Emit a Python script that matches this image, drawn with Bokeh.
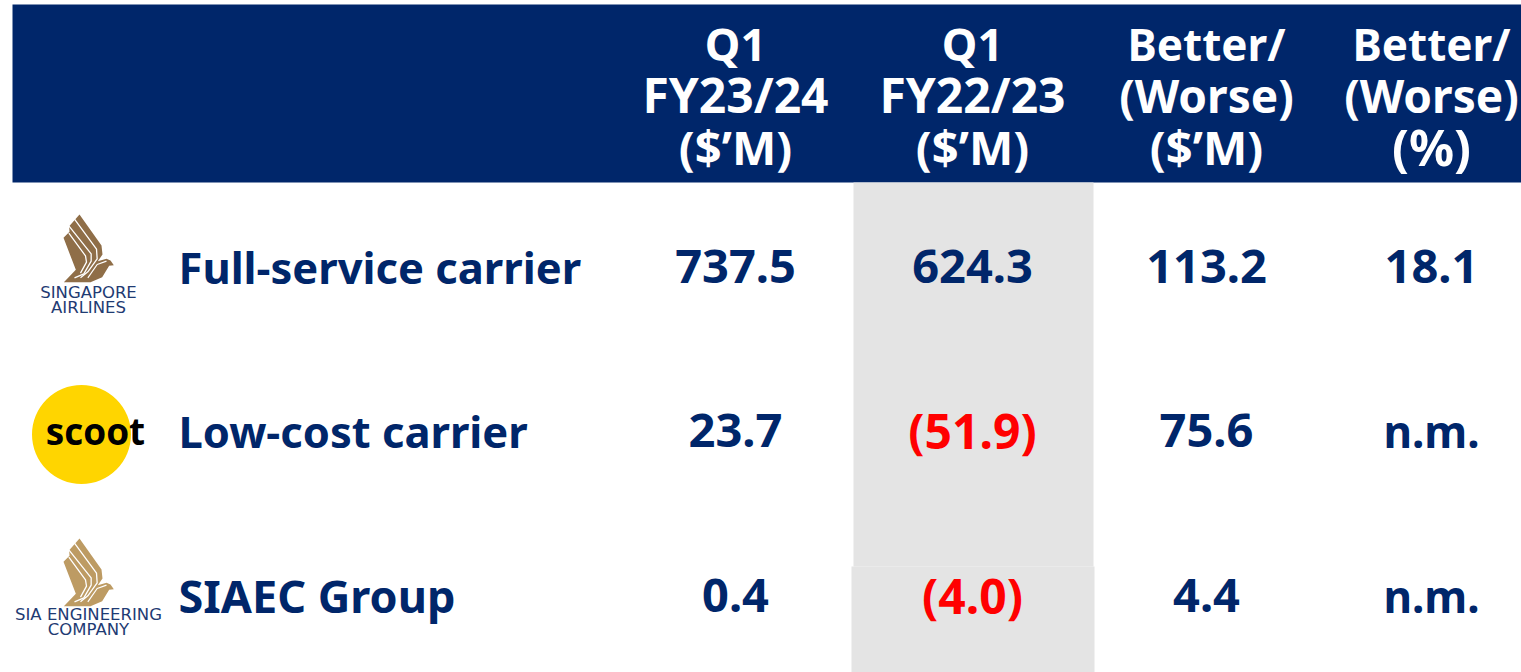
from bokeh.plotting import figure
from bokeh.models import Range1d, ColumnDataSource
from bokeh.core.properties import value
from bokeh.embed import file_html
from bokeh.resources import INLINE

NAVY = "#00266A"
RED = "#FF0000"
GOLD1 = "#8F6E48"
GOLD2 = "#BD9B63"
LOGO_NAVY = "#1F3B73"
FONT = "Noto Sans"

header_lines = [
    ["Q1", "FY23/24", "($\u2019M)"],
    ["Q1", "FY22/23", "($\u2019M)"],
    ["Better/", "(Worse)", "($\u2019M)"],
    ["Better/", "(Worse)", "(%)"],
]
segments = ["Full-service carrier", "Low-cost carrier", "SIAEC Group"]
q1_fy2324 = ["737.5", "23.7", "0.4"]
q1_fy2223 = ["624.3", "(51.9)", "(4.0)"]
better_m = ["113.2", "75.6", "4.4"]
better_pct = ["18.1", "n.m.", "n.m."]

col_x = [735, 972, 1206, 1431]
header_y = [43, 94, 146]
row_y = [266, 430, 595]
seg_x = [178, 178, 178]
seg_size = ["43.5px", "43.5px", "45px"]

HEAD_SIZE = {"Q1": "45px", "Better/": "44px", "(Worse)": "46px", "(%)": "50px", "($\u2019M)": "47px"}
DEFAULT_HEAD = "48px"


def body_size(v):
    if v.startswith("("):
        return "48px"
    if v == "n.m.":
        return "44px"
    return "47px"


p = figure(width=1521, height=672, output_backend="svg", toolbar_location=None,
           x_range=Range1d(0, 1521), y_range=Range1d(672, 0),
           min_border=0, outline_line_color=None)
p.axis.visible = False
p.grid.visible = False
p.background_fill_color = "white"
p.border_fill_color = "white"

# header band and shaded comparison column
p.quad(left=[12], right=[1521], top=[4], bottom=[182], fill_color=NAVY, line_color=None)
p.quad(left=[853, 851], right=[1093, 1094], top=[182, 566], bottom=[566, 672],
       fill_color="#E4E4E4", line_color=None)


def txt(xs, ys, labels, size, color, align="center", font=FONT, style="bold"):
    src = ColumnDataSource(dict(x=xs, y=ys, t=labels))
    p.text("x", "y", text="t", source=src, text_font=value(font), text_font_size=value(size),
           text_font_style=style, text_color=color, text_align=align, text_baseline="middle")


for cx, lines in zip(col_x, header_lines):
    for line, y in zip(lines, header_y):
        txt([cx], [y], [line], HEAD_SIZE.get(line, DEFAULT_HEAD), "white")

for x, y, s, size in zip(seg_x, row_y, segments, seg_size):
    txt([x], [y], [s], size, NAVY, align="left")
for cx, vals in zip(col_x, [q1_fy2324, q1_fy2223, better_m, better_pct]):
    for v, y in zip(vals, row_y):
        txt([cx], [y], [v], body_size(v), RED if v.startswith("(") else NAVY)


def bird(x0, y0, s, color):
    """Stylised three-feather bird; outline in its own local units."""
    sil = [(237,72),(303,165),(306,192),(292,212),(318,205),(330,210),(340,224),(326,226),(305,260),(270,275),
           (190,275),(226,238),(189,142),(207,124),(206,107)]
    p.patch([x0 + a * s for a, b in sil], [y0 + b * s for a, b in sil], fill_color=color, line_color=None)
    cuts = [[(222,86),(288,176),(290,205),(262,244),(240,262)],
            [(205,106),(272,190),(272,212),(250,250),(222,262)],
            [(205,128),(255,196),(258,215),(240,248)]]
    for c in cuts:
        p.line([x0 + a * s for a, b in c], [y0 + b * s for a, b in c], line_color="white", line_width=1.3)
    tail = [(262,262),(290,222),(318,212)]
    p.line([x0 + a * s for a, b in tail], [y0 + b * s for a, b in tail], line_color="white", line_width=1.2)


LOGO_FONT = "DejaVu Sans"
bird(0, 190, 1/3, GOLD1)
txt([88], [292], ["SINGAPORE"], "16.5px", LOGO_NAVY, font=LOGO_FONT, style="normal")
txt([88], [307], ["AIRLINES"], "16.5px", LOGO_NAVY, font=LOGO_FONT, style="normal")

p.scatter([81], [434], size=99, marker="circle", fill_color="#FFD500", line_color=None)
txt([95], [430], ["scoot"], "37px", "#000000", font="Open Sans")

bird(0, 514, 1/3, GOLD2)
txt([88], [614], ["SIA ENGINEERING"], "16.5px", LOGO_NAVY, font=LOGO_FONT, style="normal")
txt([88], [629], ["COMPANY"], "16.5px", LOGO_NAVY, font=LOGO_FONT, style="normal")

open("out.html", "w").write(file_html(p, INLINE))
